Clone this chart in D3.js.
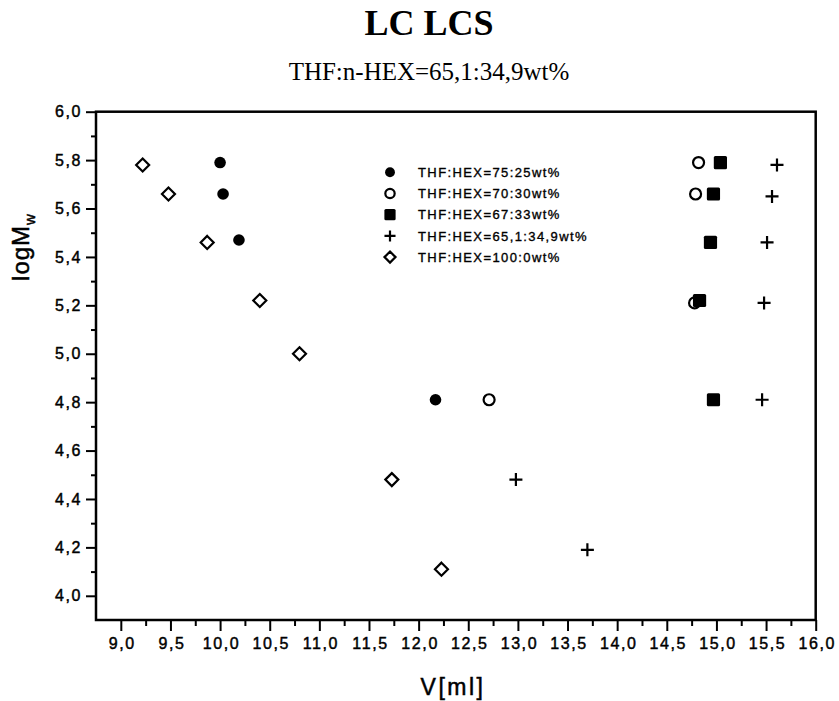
<!DOCTYPE html>
<html>
<head>
<meta charset="utf-8">
<script src="https://cdn.jsdelivr.net/npm/d3@7"></script>
<style>
  body { margin: 0; background: #fff; }
  svg { display: block; }
</style>
</head>
<body>
<svg width="839" height="701"></svg>
<script>
// series data: V[ml] and logMw
var v75 = [10.00, 10.03, 10.19, 12.17]
var m75 = [5.79, 5.66, 5.47, 4.81]
var v70 = [14.82, 14.79, 14.78, 12.71]
var m70 = [5.79, 5.66, 5.21, 4.81]
var v67 = [15.04, 14.97, 14.94, 14.83, 14.97]
var m67 = [5.79, 5.66, 5.46, 5.22, 4.81]
var v65 = [15.61, 15.56, 15.51, 15.48, 15.46, 12.98, 13.70]
var m65 = [5.78, 5.65, 5.46, 5.21, 4.81, 4.48, 4.19]
var v100 = [9.22, 9.48, 9.87, 10.40, 10.80, 11.73, 12.23]
var m100 = [5.78, 5.66, 5.46, 5.22, 5.00, 4.48, 4.11]

var seriesNames = ['THF:HEX=75:25wt%', 'THF:HEX=70:30wt%', 'THF:HEX=67:33wt%', 'THF:HEX=65,1:34,9wt%', 'THF:HEX=100:0wt%']
var seriesShapes = ['dot', 'circle', 'square', 'plus', 'diamond']

var xTicks = [9.0, 9.5, 10.0, 10.5, 11.0, 11.5, 12.0, 12.5, 13.0, 13.5, 14.0, 14.5, 15.0, 15.5, 16.0]
var xMinor = [9.25, 9.75, 10.25, 10.75, 11.25, 11.75, 12.25, 12.75, 13.25, 13.75, 14.25, 14.75, 15.25, 15.75]
var yTicks = [4.0, 4.2, 4.4, 4.6, 4.8, 5.0, 5.2, 5.4, 5.6, 5.8, 6.0]
var yMinor = [4.1, 4.3, 4.5, 4.7, 4.9, 5.1, 5.3, 5.5, 5.7, 5.9]

function drawChart () {
  var svg = d3.select('svg')
  var pl = 96, pr = 815.7, pt = 111.7, pb = 620

  var x = d3.scaleLinear().domain([8.75, 16]).range([pl, pr])
  var y = d3.scaleLinear().domain([3.9, 6.0]).range([pb, pt])

  var fmt = d3.formatLocale({ decimal: ',', thousands: '.', grouping: [3], currency: ['', ''] }).format('.1f')

  // title
  svg.append('text')
    .attr('x', 429).attr('y', 35)
    .attr('text-anchor', 'middle')
    .style('font-family', "'Liberation Serif', 'Times New Roman', serif")
    .style('font-weight', 'bold')
    .style('font-size', '36px')
    .text('LC LCS')

  svg.append('text')
    .attr('x', 429).attr('y', 80)
    .attr('text-anchor', 'middle')
    .style('font-family', "'Liberation Serif', 'Times New Roman', serif")
    .style('font-size', '25px')
    .text('THF:n-HEX=65,1:34,9wt%')

  // axes
  var gx = svg.append('g').attr('transform', 'translate(0,' + pb + ')')
    .call(d3.axisBottom(x).tickValues(xTicks).tickSize(11).tickSizeOuter(0).tickPadding(7).tickFormat(fmt))
  svg.append('g').attr('transform', 'translate(0,' + pb + ')')
    .call(d3.axisBottom(x).tickValues(xMinor).tickSize(6).tickSizeOuter(0).tickFormat(''))

  svg.append('g').attr('transform', 'translate(' + pl + ',0)')
    .call(d3.axisLeft(y).tickValues(yTicks).tickSize(10).tickSizeOuter(0).tickPadding(4).tickFormat(fmt))
  svg.append('g').attr('transform', 'translate(' + pl + ',0)')
    .call(d3.axisLeft(y).tickValues(yMinor).tickSize(5).tickSizeOuter(0).tickFormat(''))

  svg.selectAll('.domain').remove()
  svg.selectAll('.tick line').attr('stroke', '#000').attr('stroke-width', 2)
  gx.selectAll('.tick text').attr('dx', '1px')
  svg.selectAll('.tick text')
    .attr('fill', '#000')
    .attr('stroke', '#000')
    .attr('stroke-width', 0.45)
    .style('font-family', 'Arial, sans-serif')
    .style('font-size', '16px')
    .style('letter-spacing', '1.6px')

  // frame
  svg.append('rect')
    .attr('x', pl).attr('y', pt)
    .attr('width', pr - pl).attr('height', pb - pt)
    .attr('fill', 'none').attr('stroke', '#000').attr('stroke-width', 2.5)

  // axis titles
  svg.append('text')
    .attr('x', 453).attr('y', 695)
    .attr('text-anchor', 'middle')
    .attr('stroke', '#000').attr('stroke-width', 0.5)
    .style('font-family', 'Arial, sans-serif')
    .style('font-size', '23px')
    .style('letter-spacing', '2.5px')
    .text('V[ml]')

  var yl = svg.append('text')
    .attr('transform', 'translate(29,247) rotate(-90)')
    .attr('text-anchor', 'middle')
    .attr('stroke', '#000').attr('stroke-width', 0.5)
    .style('font-family', 'Arial, sans-serif')
    .style('font-size', '24px')
    .style('letter-spacing', '1px')
  yl.append('tspan').text('logM')
  yl.append('tspan').attr('dy', 6).style('font-size', '15px').text('w')

  // markers
  function drawMarker (g, shape, cx, cy, s) {
    if (shape === 'dot') {
      g.append('circle').attr('cx', cx).attr('cy', cy).attr('r', 5.8 * s).attr('fill', '#000')
    } else if (shape === 'circle') {
      g.append('circle').attr('cx', cx).attr('cy', cy).attr('r', 5.5 * s)
        .attr('fill', '#fff').attr('stroke', '#000').attr('stroke-width', 2.2)
    } else if (shape === 'square') {
      var h = 6.6 * s
      g.append('rect').attr('x', cx - h).attr('y', cy - h).attr('width', 2 * h).attr('height', 2 * h)
        .attr('rx', 1.5).attr('fill', '#000')
    } else if (shape === 'plus') {
      var p = 6.5 * s
      g.append('path').attr('d', 'M' + (cx - p) + ',' + cy + 'H' + (cx + p) + 'M' + cx + ',' + (cy - p) + 'V' + (cy + p))
        .attr('stroke', '#000').attr('stroke-width', 2.2).attr('fill', 'none')
    } else if (shape === 'diamond') {
      var d = 6.5 * s
      g.append('path').attr('d', 'M' + cx + ',' + (cy - d) + 'L' + (cx + d) + ',' + cy + 'L' + cx + ',' + (cy + d) + 'L' + (cx - d) + ',' + cy + 'Z')
        .attr('stroke', '#000').attr('stroke-width', 2.2).attr('fill', '#fff')
    }
  }

  var series = [[v75, m75], [v70, m70], [v67, m67], [v65, m65], [v100, m100]]
  var gp = svg.append('g')
  // open circles first so the filled squares overlap them as in the scan
  var order = [1, 0, 2, 3, 4]
  order.forEach(function (i) {
    series[i][0].forEach(function (v, j) {
      drawMarker(gp, seriesShapes[i], x(v), y(series[i][1][j]), 1)
    })
  })

  // legend
  var lg = svg.append('g')
  seriesNames.forEach(function (name, i) {
    var ly = 172.3 + i * 21.2
    drawMarker(lg, seriesShapes[i], 390, ly, 0.85)
    lg.append('text')
      .attr('x', 418).attr('y', ly)
      .attr('dy', '0.36em')
      .attr('stroke', '#000').attr('stroke-width', 0.35)
      .style('font-family', 'Arial, sans-serif')
      .style('font-size', '13px')
      .style('letter-spacing', '1.4px')
      .text(name)
  })
}

drawChart()
</script>
</body>
</html>
